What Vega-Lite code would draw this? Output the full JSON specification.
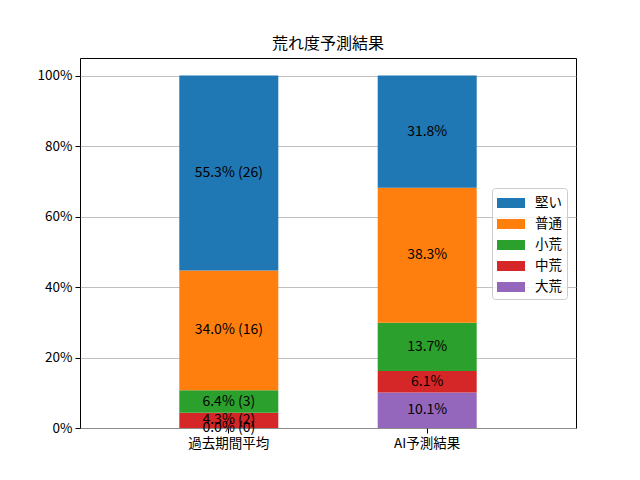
{
  "$schema": "https://vega.github.io/schema/vega-lite/v6.json",
  "autosize": "none",
  "width": 496,
  "height": 370,
  "padding": {"left": 80, "top": 58, "right": 64, "bottom": 52},
  "title": {
    "text": "荒れ度予測結果",
    "fontSize": 16,
    "fontWeight": "normal",
    "font": "Noto Sans CJK JP",
    "color": "black",
    "offset": 6
  },
  "data": {
    "values": [
      {"group": "過去期間平均", "level": "大荒", "rank": 1, "pct": 0.0, "label": "0.0% (0)"},
      {"group": "過去期間平均", "level": "中荒", "rank": 2, "pct": 4.3, "label": "4.3% (2)"},
      {"group": "過去期間平均", "level": "小荒", "rank": 3, "pct": 6.4, "label": "6.4% (3)"},
      {"group": "過去期間平均", "level": "普通", "rank": 4, "pct": 34.0, "label": "34.0% (16)"},
      {"group": "過去期間平均", "level": "堅い", "rank": 5, "pct": 55.3, "label": "55.3% (26)"},
      {"group": "AI予測結果", "level": "大荒", "rank": 1, "pct": 10.1, "label": "10.1%"},
      {"group": "AI予測結果", "level": "中荒", "rank": 2, "pct": 6.1, "label": "6.1%"},
      {"group": "AI予測結果", "level": "小荒", "rank": 3, "pct": 13.7, "label": "13.7%"},
      {"group": "AI予測結果", "level": "普通", "rank": 4, "pct": 38.3, "label": "38.3%"},
      {"group": "AI予測結果", "level": "堅い", "rank": 5, "pct": 31.8, "label": "31.8%"}
    ]
  },
  "transform": [
    {"stack": "pct", "groupby": ["group"], "sort": [{"field": "rank", "order": "ascending"}], "as": ["y0", "y1"]},
    {"calculate": "(datum.y0 + datum.y1) / 2", "as": "ymid"}
  ],
  "encoding": {
    "x": {
      "field": "group",
      "type": "nominal",
      "sort": ["過去期間平均", "AI予測結果"],
      "scale": {"paddingInner": 0.5, "paddingOuter": 0.5},
      "axis": {
        "title": null,
        "labelAngle": 0,
        "labelFont": "Noto Sans CJK JP",
        "labelFontSize": 13.5,
        "labelColor": "black",
        "tickColor": "black",
        "tickSize": 5,
        "domain": false,
        "labelPadding": 3
      }
    }
  },
  "layer": [
    {
      "mark": {"type": "bar", "size": 99},
      "encoding": {
        "y": {
          "field": "y0",
          "type": "quantitative",
          "scale": {"domain": [0, 105], "nice": false},
          "axis": {
            "title": null,
            "values": [0, 20, 40, 60, 80, 100],
            "labelExpr": "datum.value + '%'",
            "labelFont": "Noto Sans CJK JP",
            "labelFontSize": 13.5,
            "labelColor": "black",
            "tickColor": "black",
            "tickSize": 5,
            "domain": false,
            "grid": true,
            "gridColor": "#b0b0b0",
            "gridWidth": 0.8,
            "labelPadding": 3
          }
        },
        "y2": {"field": "y1"},
        "color": {
          "field": "level",
          "type": "nominal",
          "scale": {
            "domain": ["堅い", "普通", "小荒", "中荒", "大荒"],
            "range": ["#1f77b4", "#ff7f0e", "#2ca02c", "#d62728", "#9467bd"]
          },
          "legend": {
            "title": null,
            "orient": "none",
            "legendX": 412,
            "legendY": 130,
            "symbolType": "M-1,-0.5H1.8V0.5H-1Z",
            "symbolSize": 400,
            "symbolStrokeWidth": 0,
            "labelFont": "Noto Sans CJK JP",
            "labelFontSize": 13.5,
            "labelColor": "black",
            "rowPadding": 4,
            "padding": 5,
            "strokeColor": "#cccccc",
            "fillColor": "rgba(255,255,255,0.8)",
            "cornerRadius": 3,
            "labelOffset": 18
          }
        }
      }
    },
    {
      "mark": {"type": "text", "font": "Noto Sans CJK JP", "fontSize": 14, "color": "black", "baseline": "middle"},
      "encoding": {
        "y": {"field": "ymid", "type": "quantitative"},
        "text": {"field": "label"}
      }
    }
  ],
  "config": {
    "view": {"stroke": "black", "strokeWidth": 1}
  }
}
